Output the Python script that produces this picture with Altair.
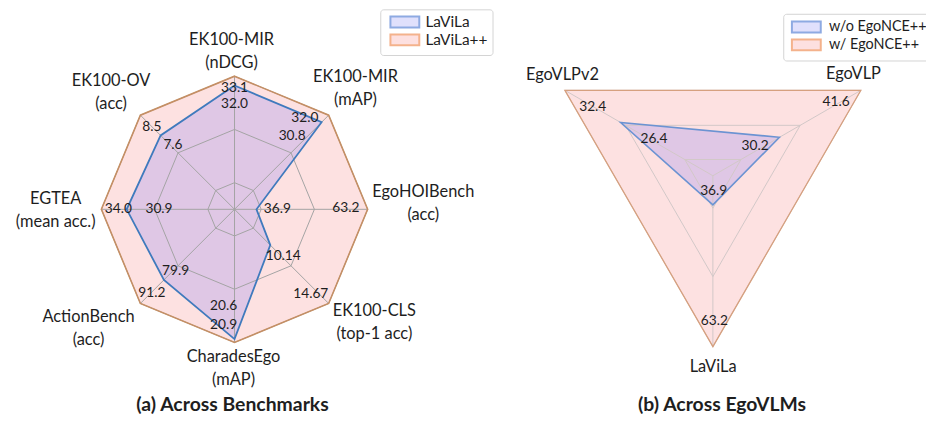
import altair as alt
import numpy as np
import pandas as pd

# ---------------- data ----------------
bench_axes = ["EK100-MIR\n(nDCG)", "EK100-MIR\n(mAP)", "EgoHOIBench\n(acc)", "EK100-CLS\n(top-1 acc)",
              "CharadesEgo\n(mAP)", "ActionBench\n(acc)", "EGTEA\n(mean acc.)", "EK100-OV\n(acc)"]
lavila_scores = ["32.0", "30.8", "36.9", "10.14", "20.6", "79.9", "30.9", "7.6"]
lavilapp_scores = ["33.1", "32.0", "63.2", "14.67", "20.9", "91.2", "34.0", "8.5"]
lavila_radius = [0.93, 0.925, 0.165, 0.38, 0.975, 0.75, 0.81, 0.785]   # normalised radial position
lavilapp_radius = [1.0, 1.0, 1.0, 1.0, 1.0, 1.0, 1.0, 1.0]

vlm_axes = ["EgoVLP", "LaViLa", "EgoVLPv2"]
wo_scores = ["30.2", "36.9", "26.4"]
w_scores = ["41.6", "63.2", "32.4"]
wo_radius = [0.45, 0.17, 0.623]
w_radius = [1.0, 1.0, 1.0]

legend_a = ["LaViLa", "LaViLa++"]
legend_b = ["w/o EgoNCE++", "w/ EgoNCE++"]
title_a = "(a) Across Benchmarks"
title_b = "(b) Across EgoVLMs"

# ---------------- layout ----------------
W, H = 924, 409
FONT = "Lato"
LH = 23
A = dict(cx=236.0, cy=209.3, R=134.0, start=0.0, step=45.0, rings=[0.2, 0.6, 1.0])
B = dict(cx=717.5, cy=175.5, R=172.0, start=60.0, step=120.0, rings=[0.19, 0.59, 1.0])

a_pp_off = [(0, 11.7), (-24, 2.5), (-22, -1), (-18, -9), (-11, -18), (11.5, -10), (17, 0), (11.5, 12)]
a_l_off = [(0, 18.3), (-29.6, 14.3), (21, 0), (13, 10.7), (-11, -33), (11.8, -8.8), (32.5, 0), (12.4, 10.1)]
a_cat_off = [(-3, -24.8), (27, -26.5), (56, -5.8), (46, 19.4), (-1, 26.2), (-52.2, 25.4), (-46, 1.2), (-29.5, -23)]
b_w_off = [(-25, 11.5), (1.5, -26), (28, 16.5)]
b_wo_off = [(-24.5, 9.2), (0.8, -14), (33.5, 16.3)]
b_cat_off = [(-7.5, -16.5), (0.2, 20.2), (-2.5, -15.5)]
a_title_off = (-2, 197.5)
b_title_off = (9.2, 231.3)


def polar(p, radii):
    n = len(radii)
    ang = np.deg2rad(p["start"] + np.arange(n) * p["step"])
    r = np.asarray(radii, dtype=float) * p["R"]
    return p["cx"] + r * np.sin(ang), p["cy"] - r * np.cos(ang)


def poly_df(p, radii, grp):
    x, y = polar(p, radii)
    return pd.DataFrame({"x": x, "y": y, "idx": np.arange(len(radii)), "grp": grp})


def rings_df(p, n):
    frames = [poly_df(p, [lv] * n, f"r{lv}") for lv in p["rings"]]
    return pd.concat(frames, ignore_index=True)


def spokes_df(p, n):
    x, y = polar(p, [1.0] * n)
    return pd.DataFrame({"x": p["cx"], "y": p["cy"], "x2": x, "y2": y})


def labels_df(p, radii, texts, offs):
    x, y = polar(p, radii)
    dx = np.array([o[0] for o in offs])
    dy = np.array([o[1] for o in offs])
    # multi-line text: Vega anchors the first line, so centre the block
    shift = np.array([-(t.count("\n")) * LH / 2 for t in texts])
    return pd.DataFrame({"x": x + dx, "y": y + dy + shift, "text": texts})


X = alt.X("x:Q", scale=alt.Scale(domain=[8, 8 + W], nice=False, zero=False), axis=None)
Y = alt.Y("y:Q", scale=alt.Scale(domain=[8, 8 + H], nice=False, zero=False, reverse=True), axis=None)


def fill_poly(df, color):
    return alt.Chart(df).mark_line(interpolate="linear-closed", fill=color, strokeOpacity=0).encode(
        x=X, y=Y, order=alt.Order("idx:Q"), detail="grp:N")


def line_poly(df, color, width):
    return alt.Chart(df).mark_line(interpolate="linear-closed", stroke=color, strokeWidth=width).encode(
        x=X, y=Y, order=alt.Order("idx:Q"), detail="grp:N")


def spokes(df, color):
    return alt.Chart(df).mark_rule(stroke=color, strokeWidth=1).encode(
        x=X, y=Y, x2=alt.X2("x2:Q"), y2=alt.Y2("y2:Q"))


def texts(df, size, weight="normal"):
    return alt.Chart(df).mark_text(font=FONT, fontSize=size, fontWeight=weight, color="#1e1e1e",
                                   align="center", baseline="middle", lineBreak="\n",
                                   lineHeight=LH).encode(x=X, y=Y, text="text:N")


def legend_layer(p, names, fills, strokes, field, lx, ly, sym_off, lab_off, pad, rowpad, fsize):
    df = pd.DataFrame({field: names, "x": p["cx"], "y": p["cy"]})
    leg = alt.Legend(title=None, orient="none", legendX=lx, legendY=ly,
                     symbolType="M-2.64,-1H2.64V1H-2.64Z", symbolSize=121,
                     symbolStrokeWidth=2, symbolOpacity=1, symbolOffset=sym_off,
                     labelOffset=lab_off, labelFont=FONT, labelFontSize=fsize, labelColor="#1e1e1e",
                     padding=pad, rowPadding=rowpad, strokeColor="#d4d4d4", fillColor="white",
                     cornerRadius=3)
    return alt.Chart(df).mark_point(filled=True, size=0, opacity=1).encode(
        x=X, y=Y,
        fill=alt.Fill(f"{field}:N", scale=alt.Scale(domain=names, range=fills), legend=leg),
        stroke=alt.Stroke(f"{field}:N", scale=alt.Scale(domain=names, range=strokes), legend=leg),
    )


nA, nB = len(bench_axes), len(vlm_axes)
tA = pd.DataFrame({"x": [A["cx"] + a_title_off[0]], "y": [A["cy"] + a_title_off[1]], "text": [title_a]})
tB = pd.DataFrame({"x": [B["cx"] + b_title_off[0]], "y": [B["cy"] + b_title_off[1]], "text": [title_b]})

layers = [
    # fills
    fill_poly(poly_df(A, lavilapp_radius, "pp"), "#fde1e1"),
    fill_poly(poly_df(A, lavila_radius, "l"), "#dfc7e5"),
    fill_poly(poly_df(B, w_radius, "w"), "#fde1e1"),
    fill_poly(poly_df(B, wo_radius, "wo"), "#dfc7e5"),
    # grids
    line_poly(rings_df(A, nA), "#a3a3a3", 1),
    spokes(spokes_df(A, nA), "#a3a3a3"),
    line_poly(rings_df(B, nB), "#d2c8c8", 1),
    spokes(spokes_df(B, nB), "#d2c8c8"),
    # outlines
    line_poly(poly_df(A, lavila_radius, "l"), "#3f7abd", 1.8),
    line_poly(poly_df(A, lavilapp_radius, "pp"), "#c58f64", 1.6),
    line_poly(poly_df(B, wo_radius, "wo"), "#6b93d2", 1.6),
    line_poly(poly_df(B, w_radius, "w"), "#d6a07f", 1.3),
    # value labels
    texts(labels_df(A, lavilapp_radius, lavilapp_scores, a_pp_off), 13.8),
    texts(labels_df(A, lavila_radius, lavila_scores, a_l_off), 13.8),
    texts(labels_df(B, w_radius, w_scores, b_w_off), 13.8),
    texts(labels_df(B, wo_radius, wo_scores, b_wo_off), 13.8),
    # axis names
    texts(labels_df(A, [1.0] * nA, bench_axes, a_cat_off), 16.5),
    texts(labels_df(B, [1.0] * nB, vlm_axes, b_cat_off), 16.5),
    # titles
    texts(tA, 19.5, "bold"),
    texts(tB, 19.5, "bold"),
    # legends
    legend_layer(A, legend_a, ["#e0e0fc", "#fde0e0"], ["#8eaae2", "#f4b28c"], "series_a",
                 374.7, 0, 12, 13, 5, -3, 15.5),
    legend_layer(B, legend_b, ["#e0e0fc", "#fde0e0"], ["#8eaae2", "#f4b28c"], "series_b",
                 780.3, 4.5, 10, 15.5, 6, -2, 14.5),
]

chart = alt.layer(*layers).resolve_scale(fill="independent", stroke="independent").resolve_legend(
    fill="independent", stroke="independent").properties(
    width=W, height=H, padding=0, autosize="none"
).configure_view(strokeWidth=0)

chart.save("out.html", embed_options={"renderer": "svg", "actions": False})
